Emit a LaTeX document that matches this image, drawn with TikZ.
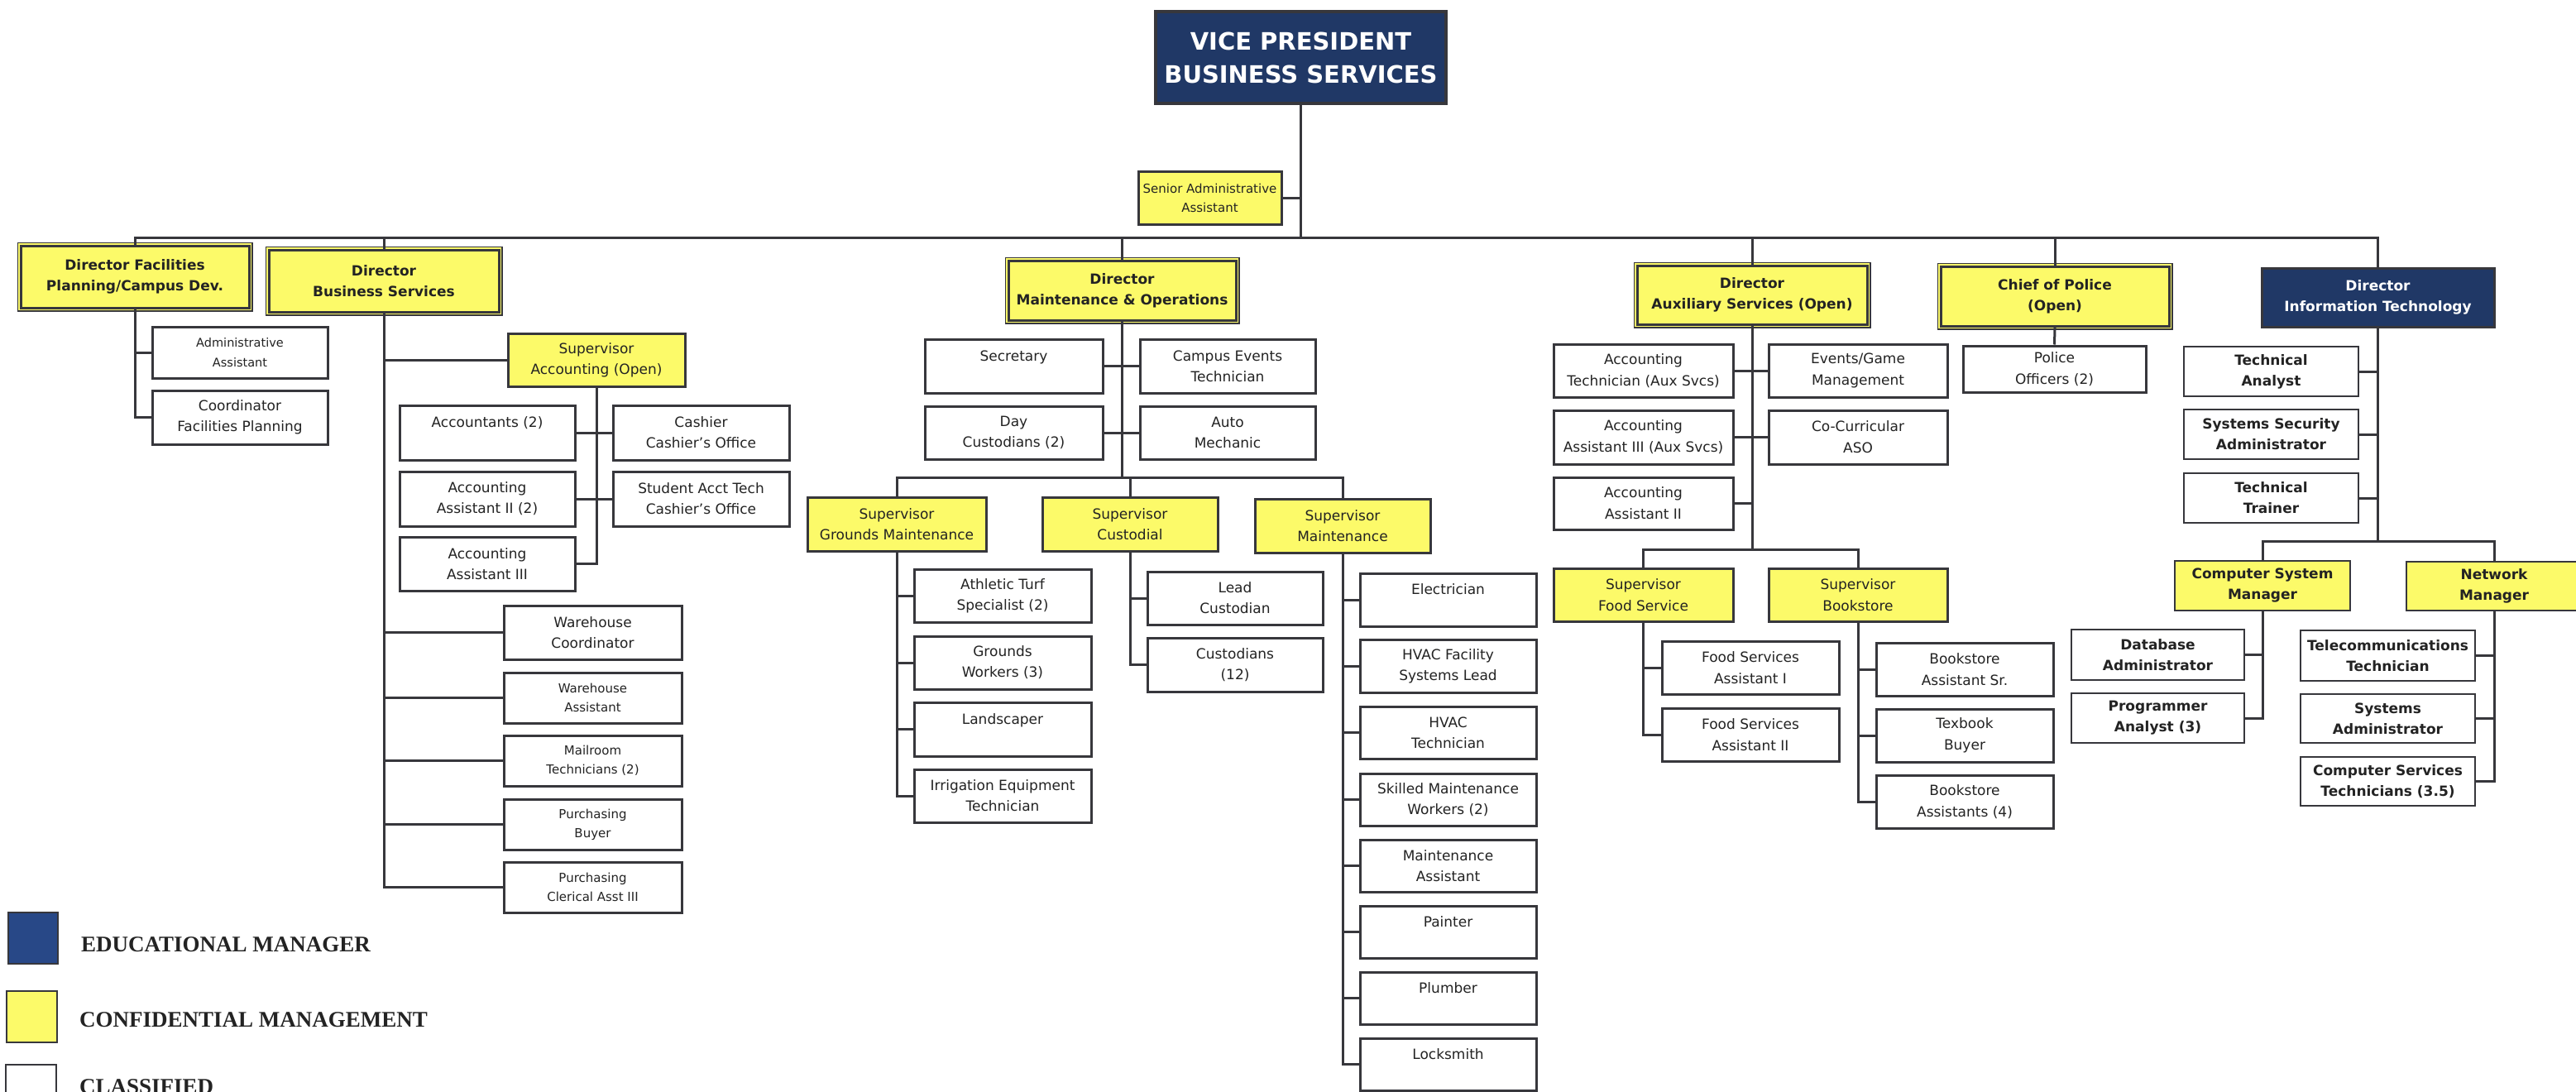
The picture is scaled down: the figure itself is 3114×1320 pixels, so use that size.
\documentclass[tikz,border=0pt]{standalone}
\usepackage{fontspec}
\setmainfont{DejaVu Sans}
\newfontfamily\legfont{Liberation Serif}
\definecolor{yel}{RGB}{252,250,105}
\definecolor{navy}{RGB}{32,56,102}
\definecolor{legblue}{RGB}{40,72,135}
\definecolor{linec}{RGB}{55,55,60}
\definecolor{textc}{RGB}{35,35,35}
\newcommand\fsz[2]{\fontsize{#1}{#2}\selectfont}
\newcommand\mkbox[7]{%
  \pgfmathsetmacro\mkw{#5-#3}%
  \pgfmathsetmacro\mkh{#6-#4}%
  \node[#2, minimum width=\mkw pt, minimum height=\mkh pt] (#1) at ({(#3+#5)/2},{-(#4+#6)/2}) {#7};}
\tikzset{
  box/.style={rectangle, draw=linec, line width=3pt, inner sep=0pt, align=center, text=textc},
  cls/.style={box, fill=white, font=\fsz{17}{25}},
  sml/.style={box, fill=white, font=\fsz{15}{23}},
  conf/.style={box, fill=yel, font=\fsz{17}{25}},
  dirbox/.style={box, fill=yel, font=\bfseries\fsz{17}{25},
    preaction={draw=linec, line width=9pt}, preaction={draw=yel, line width=6pt}},
  edu/.style={box, fill=navy, text=white, font=\bfseries\fsz{17}{25}},
  vpbox/.style={box, fill=navy, text=white, line width=3.5pt, font=\bfseries\fsz{29}{40}},
  itc/.style={box, fill=white, line width=2pt, font=\bfseries\fsz{17}{25}},
  itconf/.style={box, fill=yel, line width=2pt, font=\bfseries\fsz{17}{25}},
  aux/.style={box, fill=white, font=\fsz{17}{26}},
  auxconf/.style={box, fill=yel, font=\fsz{17}{26}},
  legsq/.style={rectangle, draw=linec, line width=1.5pt, inner sep=0pt},
  legtxt/.style={inner sep=0pt, anchor=base west, text=textc, font=\legfont\bfseries\fsz{27}{30}},
  conn/.style={draw=linec, line width=3pt}
}
\begin{document}
\begin{tikzpicture}[x=1pt,y=1pt]
\useasboundingbox (0,0) rectangle (3114,-1320);
\clip (0,0) rectangle (3114,-1320);
\fill[white] (0,0) rectangle (3114,-1320);
\coordinate (bus) at (0,-287);
\coordinate (mobus) at (0,-577);
\coordinate (axbus) at (0,-664);
\coordinate (itbus) at (0,-654);

% top
\mkbox{vp}{vpbox}{1397}{14}{1748}{125}{VICE PRESIDENT\\BUSINESS SERVICES}
\mkbox{sradmin}{conf,font=\fsz{15}{23}}{1376}{207}{1549}{271}{Senior Administrative\\Assistant}

% directors
\mkbox{dirfac}{dirbox}{25}{297}{301}{372}{Director Facilities\\Planning/Campus Dev.}
\mkbox{dirbs}{dirbox}{325}{302}{603}{377}{Director\\Business Services}
\mkbox{dirmo}{dirbox}{1219}{315}{1494}{387}{Director\\Maintenance \& Operations}
\mkbox{dirax}{dirbox}{1979}{321}{2257}{392}{Director\\Auxiliary Services (Open)}
\mkbox{chief}{dirbox}{2346}{322}{2622}{394}{Chief of Police\\(Open)}
\mkbox{dirit}{edu}{2734}{324}{3015}{395}{Director\\Information Technology}

% facilities
\mkbox{fadmin}{box,fill=white,font=\fsz{14.5}{24}}{184}{395}{396}{457}{Administrative\\Assistant}
\mkbox{fcoord}{cls}{184}{472}{396}{537}{Coordinator\\Facilities Planning}

% business services
\mkbox{supacc}{conf}{614}{403}{828}{467}{Supervisor\\Accounting (Open)}
\mkbox{acct}{cls}{483}{490}{695}{556}{Accountants (2)\\\mbox{}}
\mkbox{cashier}{cls}{741}{490}{954}{556}{Cashier\\Cashier's Office}
\mkbox{aa2}{cls}{483}{570}{695}{636}{Accounting\\Assistant II (2)}
\mkbox{student}{cls}{741}{570}{954}{636}{Student Acct Tech\\Cashier's Office}
\mkbox{aa3}{cls}{483}{649}{695}{714}{Accounting\\Assistant III}
\mkbox{whc}{cls}{609}{732}{824}{797}{Warehouse\\Coordinator}
\mkbox{wha}{sml}{609}{813}{824}{874}{Warehouse\\Assistant}
\mkbox{mail}{sml}{609}{889}{824}{950}{Mailroom\\Technicians (2)}
\mkbox{pbuy}{sml}{609}{966}{824}{1027}{Purchasing\\Buyer}
\mkbox{pcler}{sml}{609}{1042}{824}{1103}{Purchasing\\Clerical Asst III}

% maintenance & operations
\mkbox{sec}{cls}{1118}{410}{1333}{475}{Secretary\\\mbox{}}
\mkbox{cet}{cls}{1378}{410}{1590}{475}{Campus Events\\Technician}
\mkbox{dayc}{cls}{1118}{491}{1333}{555}{Day\\Custodians (2)}
\mkbox{auto}{cls}{1378}{491}{1590}{555}{Auto\\Mechanic}
\mkbox{supgr}{conf}{976}{601}{1192}{666}{Supervisor\\Grounds Maintenance}
\mkbox{supcu}{conf}{1260}{601}{1472}{666}{Supervisor\\Custodial}
\mkbox{supmt}{conf}{1517}{603}{1729}{668}{Supervisor\\Maintenance}
\mkbox{turf}{cls}{1105}{688}{1319}{752}{Athletic Turf\\Specialist (2)}
\mkbox{gw}{cls}{1105}{769}{1319}{833}{Grounds\\Workers (3)}
\mkbox{land}{cls}{1105}{849}{1319}{914}{Landscaper\\\mbox{}}
\mkbox{irr}{cls}{1105}{930}{1319}{994}{Irrigation Equipment\\Technician}
\mkbox{leadc}{cls}{1387}{691}{1599}{755}{Lead\\Custodian}
\mkbox{cust}{cls}{1387}{771}{1599}{836}{Custodians\\(12)}
\mkbox{elec}{cls}{1644}{693}{1857}{757}{Electrician\\\mbox{}}
\mkbox{hvacl}{cls}{1644}{773}{1857}{837}{HVAC Facility\\Systems Lead}
\mkbox{hvact}{cls}{1644}{854}{1857}{917}{HVAC\\Technician}
\mkbox{skill}{cls}{1644}{935}{1857}{998}{Skilled Maintenance\\Workers (2)}
\mkbox{mast}{cls}{1644}{1015}{1857}{1078}{Maintenance\\Assistant}
\mkbox{paint}{cls}{1644}{1095}{1857}{1158}{Painter\\\mbox{}}
\mkbox{plumb}{cls}{1644}{1175}{1857}{1238}{Plumber\\\mbox{}}
\mkbox{lock}{cls}{1644}{1255}{1857}{1318}{Locksmith\\\mbox{}}

% auxiliary services
\mkbox{acctt}{aux}{1878}{416}{2095}{480}{Accounting\\Technician (Aux Svcs)}
\mkbox{evg}{aux}{2138}{416}{2354}{480}{Events/Game\\Management}
\mkbox{aa3x}{aux}{1878}{496}{2095}{561}{Accounting\\Assistant III (Aux Svcs)}
\mkbox{cocur}{aux}{2138}{496}{2354}{561}{Co-Curricular\\ASO}
\mkbox{aa2x}{aux}{1878}{577}{2095}{640}{Accounting\\Assistant II}
\mkbox{supfood}{auxconf}{1878}{687}{2095}{751}{Supervisor\\Food Service}
\mkbox{supbook}{auxconf}{2138}{687}{2354}{751}{Supervisor\\Bookstore}
\mkbox{fsa1}{aux}{2009}{775}{2223}{839}{Food Services\\Assistant I}
\mkbox{fsa2}{aux}{2009}{856}{2223}{920}{Food Services\\Assistant II}
\mkbox{bas}{aux}{2268}{777}{2482}{841}{Bookstore\\Assistant Sr.}
\mkbox{tbb}{aux}{2268}{857}{2482}{921}{Texbook\\Buyer}
\mkbox{ba4}{aux}{2268}{937}{2482}{1001}{Bookstore\\Assistants (4)}

% police
\mkbox{police}{aux}{2373}{418}{2594}{474}{Police\\Officers (2)}

% IT
\mkbox{ta}{itc}{2640}{419}{2851}{479}{Technical\\Analyst}
\mkbox{ssa}{itc}{2640}{495}{2851}{555}{Systems Security\\Administrator}
\mkbox{tt}{itc}{2640}{572}{2851}{632}{Technical\\Trainer}
\mkbox{csm}{itconf}{2629}{678}{2841}{738}{Computer System\\Manager}
\mkbox{netm}{itconf}{2909}{679}{3121}{738}{Network\\Manager}
\mkbox{dba}{itc}{2504}{761}{2713}{822}{Database\\Administrator}
\mkbox{pa}{itc}{2504}{838}{2713}{898}{Programmer\\Analyst (3)}
\mkbox{tel}{itc}{2781}{762}{2992}{823}{Telecommunications\\Technician}
\mkbox{sysad}{itc}{2781}{839}{2992}{898}{Systems\\Administrator}
\mkbox{cst}{itc}{2781}{915}{2992}{974}{Computer Services\\Technicians (3.5)}

% legend
\mkbox{lsq1}{legsq,fill=legblue}{10}{1103}{70}{1165}{}
\mkbox{lsq2}{legsq,fill=yel}{8}{1198}{69}{1260}{}
\mkbox{lsq3}{legsq,fill=white}{7}{1287}{68}{1350}{}
\node[legtxt] (lt1) at (98,-1150) {EDUCATIONAL MANAGER};
\node[legtxt] (lt2) at (96,-1241) {CONFIDENTIAL MANAGEMENT};
\node[legtxt] (lt3) at (96,-1322) {CLASSIFIED};

% connectors
\begin{scope}[on background layer/.style={}]
\end{scope}
\draw[conn] (vp.south) -- (vp.south |- bus);
\draw[conn] (sradmin.east) -- (sradmin.east -| vp.south);
\draw[conn] (dirfac.north) -- (dirfac.north |- bus) -- (dirit.north |- bus) -- (dirit.north);
\foreach \n in {dirbs,dirmo,dirax,chief}{\draw[conn] (\n.north) -- (\n.north |- bus);}

\draw[conn] (dirfac.south) |- (fcoord.west);
\draw[conn] (dirfac.south |- fadmin.west) -- (fadmin.west);

\draw[conn] (dirbs.south) |- (pcler.west);
\foreach \n in {supacc,whc,wha,mail,pbuy}{\draw[conn] (dirbs.south |- \n.west) -- (\n.west);}
\draw[conn] (supacc.south) |- (aa3.east);
\draw[conn] (acct.east) -- (cashier.west);
\draw[conn] (aa2.east) -- (student.west);

\draw[conn] (dirmo.south) -- (dirmo.south |- mobus);
\draw[conn] (sec.east) -- (cet.west);
\draw[conn] (dayc.east) -- (auto.west);
\draw[conn] (supgr.north) -- (supgr.north |- mobus) -- (supmt.north |- mobus) -- (supmt.north);
\draw[conn] (supcu.north) -- (supcu.north |- mobus);
\draw[conn] (supgr.south) |- (irr.west);
\foreach \n in {turf,gw,land}{\draw[conn] (supgr.south |- \n.west) -- (\n.west);}
\draw[conn] (supcu.south) |- (cust.west);
\draw[conn] (supcu.south |- leadc.west) -- (leadc.west);
\draw[conn] (supmt.south) |- (lock.west);
\foreach \n in {elec,hvacl,hvact,skill,mast,paint,plumb}{\draw[conn] (supmt.south |- \n.west) -- (\n.west);}

\draw[conn] (dirax.south) -- (dirax.south |- axbus);
\draw[conn] (acctt.east) -- (evg.west);
\draw[conn] (aa3x.east) -- (cocur.west);
\draw[conn] (aa2x.east) -- (aa2x.east -| dirax.south);
\draw[conn] (supfood.north) -- (supfood.north |- axbus) -- (supbook.north |- axbus) -- (supbook.north);
\draw[conn] (supfood.south) |- (fsa2.west);
\draw[conn] (supfood.south |- fsa1.west) -- (fsa1.west);
\draw[conn] (supbook.south) |- (ba4.west);
\foreach \n in {bas,tbb}{\draw[conn] (supbook.south |- \n.west) -- (\n.west);}

\draw[conn] (chief.south) -- (police.north);

\draw[conn] (dirit.south) -- (dirit.south |- itbus);
\foreach \n in {ta,ssa,tt}{\draw[conn] (\n.east) -- (\n.east -| dirit.south);}
\draw[conn] (csm.north) -- (csm.north |- itbus) -- (netm.north |- itbus) -- (netm.north);
\draw[conn] (csm.south) |- (pa.east);
\draw[conn] (dba.east) -- (dba.east -| csm.south);
\draw[conn] (netm.south) |- (cst.east);
\foreach \n in {tel,sysad}{\draw[conn] (\n.east) -- (\n.east -| netm.south);}
\end{tikzpicture}
\end{document}
